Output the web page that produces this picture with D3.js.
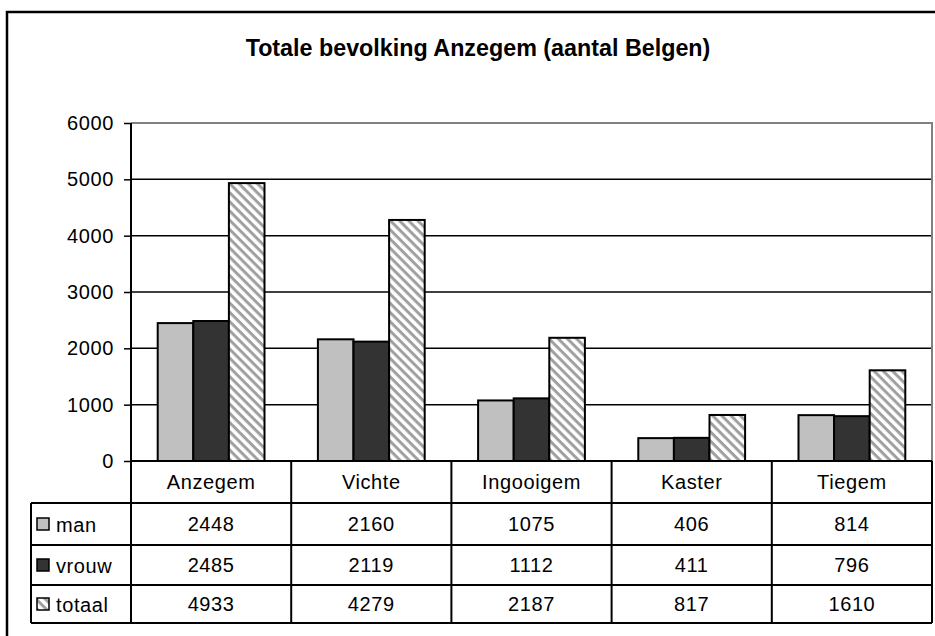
<!DOCTYPE html>
<html>
<head>
<meta charset="utf-8">
<script src="https://cdn.jsdelivr.net/npm/d3@7"></script>
<style>
  body { margin: 0; background: #fff; }
  text { font-family: "Liberation Sans", Arial, sans-serif; fill: #000; }
</style>
</head>
<body>
<svg id="chart" width="935" height="636"></svg>
<script>
const categories = ["Anzegem", "Vichte", "Ingooigem", "Kaster", "Tiegem"];
const seriesNames = ["man", "vrouw", "totaal"];
const man = [2448, 2160, 1075, 406, 814];
const vrouw = [2485, 2119, 1112, 411, 796];
const totaal = [4933, 4279, 2187, 817, 1610];
const yTicks = [0, 1000, 2000, 3000, 4000, 5000, 6000];

const seriesValues = [man, vrouw, totaal];
const seriesFill = ["#c0c0c0", "#333333", "url(#hatch)"];

const svg = d3.select("#chart");

// plot area
const plotL = 131, plotR = 932, plotT = 123, plotB = 461;
const rowLines = [461, 503, 545, 585, 623];
const tableLeft = 31;

const x = d3.scaleBand().domain(categories).range([plotL, plotR]);
const xs = d3.scaleBand().domain(seriesNames)
  .range([0, x.bandwidth()]).paddingOuter(0.75).paddingInner(0);
const y = d3.scaleLinear().domain([0, 6000]).range([plotB, plotT]);

// hatch pattern (stripes running top-left to bottom-right)
const defs = svg.append("defs");
const pat = defs.append("pattern")
  .attr("id", "hatch")
  .attr("patternUnits", "userSpaceOnUse")
  .attr("width", 6.5).attr("height", 6.5)
  .attr("patternTransform", "rotate(45)");
pat.append("rect").attr("width", 6.5).attr("height", 6.5).attr("fill", "#fff");
pat.append("rect").attr("width", 6.5).attr("height", 3).attr("fill", "#a0a0a0");

// outer frame
svg.append("rect")
  .attr("x", 7).attr("y", 12).attr("width", 960).attr("height", 660)
  .attr("fill", "none").attr("stroke", "#000").attr("stroke-width", 2.5);

svg.append("text")
  .attr("x", 478).attr("y", 56)
  .attr("text-anchor", "middle")
  .style("font-size", "23.3px").style("font-weight", "bold")
  .text("Totale bevolking Anzegem (aantal Belgen)");

// gridlines
svg.append("g").selectAll("line")
  .data(yTicks.filter(d => d > 0 && d < 6000))
  .join("line")
  .attr("x1", plotL).attr("x2", plotR)
  .attr("y1", d => y(d)).attr("y2", d => y(d))
  .attr("stroke", "#000").attr("stroke-width", 1.5);

// plot area border (top / right)
svg.append("path")
  .attr("d", `M${plotL},${plotT}H${plotR}V${plotB}`)
  .attr("fill", "none").attr("stroke", "#808080").attr("stroke-width", 2);

// bars
const groups = svg.append("g").selectAll("g")
  .data(categories)
  .join("g")
  .attr("transform", d => `translate(${x(d)},0)`);

groups.selectAll("rect")
  .data((c, i) => seriesNames.map((s, j) => ({ s, j, v: seriesValues[j][i] })))
  .join("rect")
  .attr("x", d => xs(d.s))
  .attr("width", xs.bandwidth())
  .attr("y", d => y(d.v))
  .attr("height", d => y(0) - y(d.v))
  .attr("fill", d => seriesFill[d.j])
  .attr("stroke", "#000").attr("stroke-width", 2);

// y axis
const yAxis = svg.append("g")
  .attr("transform", `translate(${plotL},0)`)
  .call(d3.axisLeft(y).tickValues(yTicks).tickSize(7).tickPadding(10).tickFormat(d3.format("d")));
yAxis.select(".domain").remove();
yAxis.selectAll(".tick line").attr("stroke", "#000").attr("stroke-width", 1.5);
yAxis.selectAll(".tick text")
  .style("font-size", "20px").style("letter-spacing", "0.6px");
yAxis.attr("font-family", null).attr("font-size", null);

svg.append("line")
  .attr("x1", plotL).attr("x2", plotL).attr("y1", plotT).attr("y2", rowLines[rowLines.length - 1])
  .attr("stroke", "#000").attr("stroke-width", 2);

// data table
const table = svg.append("g");
table.selectAll("line.h")
  .data(rowLines)
  .join("line")
  .attr("x1", (d, i) => i === 0 ? plotL : tableLeft)
  .attr("x2", plotR)
  .attr("y1", d => d).attr("y2", d => d)
  .attr("stroke", "#000").attr("stroke-width", 2);

table.selectAll("line.v")
  .data(categories.slice(1).map(c => x(c)).concat([plotR]))
  .join("line")
  .attr("x1", d => d).attr("x2", d => d)
  .attr("y1", rowLines[0]).attr("y2", rowLines[4])
  .attr("stroke", "#000").attr("stroke-width", 2);

table.append("line")
  .attr("x1", tableLeft).attr("x2", tableLeft)
  .attr("y1", rowLines[1]).attr("y2", rowLines[4])
  .attr("stroke", "#000").attr("stroke-width", 2);

const rowMid = i => (rowLines[i] + rowLines[i + 1]) / 2;

table.selectAll("text.cat")
  .data(categories)
  .join("text")
  .attr("x", d => x(d) + x.bandwidth() / 2)
  .attr("y", rowMid(0) + 7)
  .attr("text-anchor", "middle")
  .style("font-size", "20px").style("letter-spacing", "0.6px")
  .text(d => d);

seriesNames.forEach((s, j) => {
  const ym = rowMid(j + 1);
  table.append("rect")
    .attr("x", 37).attr("y", ym - 6).attr("width", 12).attr("height", 12)
    .attr("fill", seriesFill[j]).attr("stroke", "#000").attr("stroke-width", 1.5);
  table.append("text")
    .attr("x", 56).attr("y", ym + 8)
    .style("font-size", "20px").style("letter-spacing", "0.6px")
    .text(s);
  table.selectAll(null)
    .data(categories)
    .join("text")
    .attr("x", d => x(d) + x.bandwidth() / 2)
    .attr("y", ym + 7)
    .attr("text-anchor", "middle")
    .style("font-size", "20px").style("letter-spacing", "0.6px")
    .text((d, i) => seriesValues[j][i]);
});
</script>
</body>
</html>
